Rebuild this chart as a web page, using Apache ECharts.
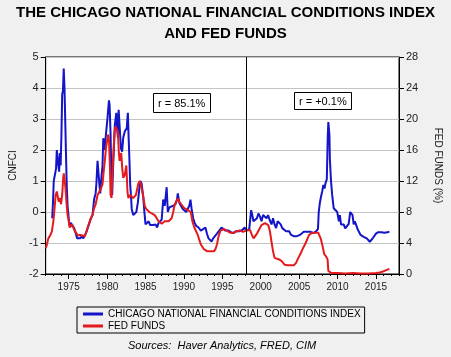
<!DOCTYPE html>
<html><head><meta charset="utf-8">
<script src="https://cdn.jsdelivr.net/npm/echarts@6/dist/echarts.min.js"></script>
<style>html,body{margin:0;padding:0;background:#f0f0f0}#c{width:451px;height:357px}</style>
</head><body><div id="c"></div>
<script>
const cnfciYears = [1972.85,1972.95,1973.05,1973.2,1973.35,1973.45,1973.55,1973.65,1973.75,1973.85,1973.95,1974.05,1974.15,1974.25,1974.35,1974.45,1974.55,1974.65,1974.75,1974.85,
1975.0,1975.1,1975.25,1975.4,1975.55,1975.75,1975.9,1976.1,1976.3,1976.5,1976.7,1976.9,1977.1,1977.3,1977.5,1977.7,1977.9,1978.1,1978.3,1978.5,
1978.6,1978.75,1978.85,1979.0,1979.1,1979.25,1979.4,1979.5,1979.65,1979.8,1980.0,1980.24,1980.32,1980.45,1980.55,1980.66,1980.75,1980.87,1981.0,1981.2,
1981.3,1981.4,1981.5,1981.62,1981.8,1981.95,1982.1,1982.3,1982.55,1982.7,1982.8,1982.9,1983.0,1983.1,1983.2,1983.4,1983.8,1984.0,1984.2,1984.35,
1984.5,1984.7,1984.85,1985.0,1985.2,1985.4,1985.6,1985.8,1986.0,1986.3,1986.5,1986.7,1986.9,1987.1,1987.3,1987.5,1987.75,1987.9,1988.1,1988.3,
1988.6,1988.9,1989.1,1989.2,1989.4,1989.6,1989.85,1990.0,1990.3,1990.5,1990.7,1990.85,1991.0,1991.2,1991.4,1991.6,1991.9,1992.2,1992.5,1992.8,
1993.0,1993.2,1993.4,1993.6,1993.8,1994.0,1994.3,1994.6,1994.9,1995.1,1995.4,1995.8,1996.1,1996.4,1996.8,1997.2,1997.6,1997.9,1998.1,1998.35,
1998.5,1998.75,1998.9,1999.05,1999.3,1999.5,1999.7,1999.9,2000.1,2000.3,2000.55,2000.75,2000.95,2001.15,2001.4,2001.6,2001.8,2002.0,2002.2,2002.4,
2002.6,2002.8,2003.05,2003.3,2003.5,2003.7,2003.95,2004.3,2004.7,2005.1,2005.6,2006.0,2006.5,2006.9,2007.2,2007.45,2007.55,2007.7,2007.85,2008.0,
2008.15,2008.3,2008.45,2008.6,2008.72,2008.8,2008.86,2008.94,2009.0,2009.15,2009.3,2009.5,2009.75,2009.96,2010.17,2010.3,2010.45,2010.6,2010.8,2011.0,
2011.2,2011.45,2011.65,2011.8,2011.95,2012.1,2012.25,2012.4,2012.6,2012.8,2013.0,2013.2,2013.4,2013.6,2013.8,2014.0,2014.2,2014.4,2014.6,2014.8,
2015.0,2015.15,2015.3,2015.5,2015.7,2015.9,2016.1,2016.3,2016.5,2016.75];
const cnfciValues = [-0.2,0.3,1.0,0.95,1.4,2.0,1.95,1.5,1.3,1.9,1.5,2.5,3.8,3.9,4.63,4.0,2.9,1.8,0.8,0.2,
-0.2,-0.45,-0.35,-0.3,-0.45,-0.55,-0.6,-0.85,-0.8,-0.85,-0.78,-0.85,-0.8,-0.65,-0.5,-0.35,-0.2,-0.1,0.4,0.6,
0.9,1.65,1.7,0.87,0.6,1.1,1.5,2.38,2.0,1.95,2.9,3.6,3.45,2.5,1.2,0.55,1.3,2.0,2.8,3.2,
2.7,2.4,3.3,2.8,2.05,1.95,2.4,2.6,2.7,3.2,2.4,1.7,0.9,0.55,0.1,-0.1,0.0,0.3,0.76,1.0,
0.9,0.5,0.0,-0.4,-0.45,-0.3,-0.42,-0.4,-0.42,-0.4,-0.5,-0.35,-0.3,-0.25,0.4,0.2,0.8,0.0,0.15,0.1,
0.2,0.25,0.4,0.6,0.3,0.2,0.1,0.05,0.0,0.05,0.2,0.4,0.1,-0.2,-0.35,-0.45,-0.5,-0.6,-0.55,-0.5,
-0.7,-0.85,-0.8,-0.95,-0.85,-0.8,-0.7,-0.6,-0.5,-0.55,-0.6,-0.6,-0.65,-0.68,-0.62,-0.62,-0.58,-0.5,-0.6,-0.6,
-0.55,0.06,-0.1,-0.3,-0.3,-0.2,-0.05,-0.15,-0.3,-0.1,-0.05,-0.2,-0.1,-0.25,-0.4,-0.2,-0.4,-0.52,-0.3,-0.35,
-0.4,-0.52,-0.58,-0.62,-0.68,-0.62,-0.74,-0.78,-0.78,-0.74,-0.64,-0.64,-0.64,-0.68,-0.62,-0.55,0.0,0.3,0.5,0.66,
0.87,0.76,0.95,1.05,2.4,2.9,2.85,2.5,1.7,1.0,0.55,0.12,0.12,0.0,-0.3,-0.1,-0.4,-0.45,-0.4,-0.53,
-0.53,-0.38,0.0,0.06,-0.1,-0.4,-0.3,-0.4,-0.55,-0.6,-0.74,-0.68,-0.8,-0.8,-0.85,-0.9,-0.96,-0.94,-0.84,-0.8,
-0.7,-0.75,-0.65,-0.7,-0.65,-0.62,-0.67,-0.62,-0.65,-0.64];

const fedYears = [1972.0,1972.15,1972.35,1972.6,1972.8,1973.0,1973.15,1973.3,1973.45,1973.56,1973.7,1973.86,1974.0,1974.15,1974.28,1974.36,1974.48,1974.58,1974.7,1974.83,
1975.0,1975.13,1975.25,1975.42,1975.6,1975.76,1975.97,1976.2,1976.5,1976.8,1977.1,1977.46,1977.67,1977.88,1978.1,1978.3,1978.5,1978.76,1979.2,1979.4,
1979.55,1979.7,1979.85,1980.0,1980.15,1980.25,1980.36,1980.45,1980.58,1980.7,1980.87,1980.97,1981.08,1981.2,1981.4,1981.52,1981.63,1981.72,1981.84,1981.97,
1982.1,1982.3,1982.5,1982.65,1982.77,1983.0,1983.4,1983.75,1984.04,1984.25,1984.47,1984.7,1984.9,1985.08,1985.3,1985.5,1985.85,1986.2,1986.7,1987.1,
1987.5,1988.0,1988.4,1988.6,1988.8,1989.2,1989.4,1989.6,1990.0,1990.4,1990.9,1991.1,1991.35,1991.8,1992.2,1992.6,1993.05,1993.5,1993.9,1994.1,
1994.3,1994.5,1994.75,1995.2,1995.6,1996.0,1996.5,1996.9,1997.3,1997.7,1998.1,1998.6,1998.85,1999.07,1999.3,1999.5,1999.75,2000.1,2000.55,2000.76,
2000.98,2001.2,2001.4,2001.6,2001.8,2002.0,2002.4,2002.7,2002.9,2003.1,2003.5,2003.9,2004.3,2004.6,2004.8,2005.0,2005.2,2005.4,2005.6,2005.85,
2006.1,2006.3,2006.5,2006.7,2007.2,2007.5,2007.6,2007.8,2008.05,2008.26,2008.5,2008.7,2008.8,2008.95,2009.2,2010.0,2011.0,2012.0,2013.0,2014.0,
2015.0,2015.5,2015.9,2016.1,2016.5,2016.75];
const fedValues = [3.32,3.76,4.6,5.0,5.48,6.8,8.4,10.2,10.64,10.4,9.32,9.8,9.0,10.2,12.36,13.0,12.0,11.04,9.32,7.8,
6.8,6.0,5.8,6.4,6.2,5.6,5.4,4.96,5.04,4.96,4.88,6.0,6.6,7.2,7.6,8.48,8.96,10.2,11.04,11.6,
13.2,14.6,16.24,17.2,18.0,17.2,14.0,10.2,9.8,13.2,16.6,18.4,19.0,19.2,18.4,15.8,14.6,15.2,15.6,13.6,
12.4,12.8,14.0,10.6,9.8,10.2,9.8,10.2,11.6,12.0,11.2,10.0,8.8,8.4,8.2,8.0,7.8,7.6,6.8,6.48,
6.8,6.8,7.2,8.0,8.96,9.76,9.32,9.12,8.52,8.32,8.0,6.8,6.0,5.04,3.8,3.2,2.92,2.92,2.92,3.2,
3.8,4.8,5.6,5.8,5.6,5.32,5.32,5.52,5.6,5.44,5.6,5.68,5.04,4.6,4.8,5.2,5.68,6.32,6.56,6.56,
6.32,5.48,4.16,2.92,2.08,1.88,1.88,1.68,1.44,1.2,1.12,1.12,1.12,1.44,1.88,2.28,2.68,3.12,3.52,4.0,
4.6,5.04,5.24,5.32,5.32,5.32,5.04,4.6,3.6,2.56,2.28,1.88,0.4,0.16,0.12,0.12,0.08,0.12,0.08,0.08,
0.12,0.2,0.32,0.4,0.56,0.64];

const xMajorTicks = [1975,1980,1985,1990,1995,2000,2005,2010,2015];
const xMinorTicks = [];
for (let y = 1972; y <= 2018; y++) xMinorTicks.push(y);
const gridLevels = [-1, 0, 1, 2, 3, 4];
const xMin = 1972, xMax = 2018, yMin = -2, yMax = 5;
const splitYear = 1998.1;

const cnfciData = cnfciYears.map((y, i) => [y, cnfciValues[i]]);
const fedData = fedYears.map((y, i) => [y, fedValues[i]]);

const FONT = '"Liberation Sans", Arial, sans-serif';
const chart = echarts.init(document.getElementById('c'), null, {renderer: 'canvas'});
chart.setOption({
  backgroundColor: '#f0f0f0',
  animation: false,
  title: [
    {text: 'THE CHICAGO NATIONAL FINANCIAL CONDITIONS INDEX\nAND FED FUNDS', left: 'center', top: 2,
     textStyle: {fontFamily: FONT, fontSize: 15, fontWeight: 'bold', color: '#000', lineHeight: 21, align: 'center'}, padding: 0},
    {text: 'r = 85.1%', left: 153, top: 93, padding: [5, 5, 4, 5], borderColor: '#000', borderWidth: 1, backgroundColor: '#fff', z: 10,
     textStyle: {fontFamily: FONT, fontSize: 11, fontWeight: 'normal', color: '#000'}},
    {text: 'r = +0.1%', left: 294, top: 92, padding: [4, 5, 3, 5], borderColor: '#000', borderWidth: 1, backgroundColor: '#fff', z: 10,
     textStyle: {fontFamily: FONT, fontSize: 11, fontWeight: 'normal', color: '#000'}},
    {text: 'Sources:  Haver Analytics, FRED, CIM', left: 128, top: 340, padding: 0,
     textStyle: {fontFamily: FONT, fontSize: 11, fontWeight: 'normal', fontStyle: 'italic', color: '#000'}}
  ],
  legend: {
    orient: 'vertical', left: 77, top: 307, itemGap: 2, itemWidth: 20, itemHeight: 3, icon: 'rect',
    borderColor: '#000', borderWidth: 1, borderRadius: 0, padding: [2, 4, 2, 6],
    textStyle: {fontFamily: FONT, fontSize: 10, color: '#000'},
    data: ['CHICAGO NATIONAL FINANCIAL CONDITIONS INDEX', 'FED FUNDS']
  },
  grid: {left: 41, right: 46, top: 57, bottom: 83, show: true, backgroundColor: 'transparent', borderColor: '#000', borderWidth: 1},
  xAxis: [
    {type: 'value', min: xMin, max: xMax, position: 'bottom',
     axisLine: {show: true, onZero: false, lineStyle: {color: '#000'}},
     axisTick: {show: true, length: 5, customValues: xMajorTicks, lineStyle: {color: '#000'}},
     axisLabel: {customValues: xMajorTicks, fontFamily: FONT, fontSize: 10, color: '#222', margin: 8, formatter: v => String(v)},
     splitLine: {show: false}},
    {type: 'value', min: xMin, max: xMax, position: 'bottom',
     axisLine: {show: false, onZero: false}, axisLabel: {show: false}, splitLine: {show: false},
     axisTick: {show: true, length: 2, customValues: xMinorTicks, lineStyle: {color: '#000'}}}
  ],
  yAxis: [
    {type: 'value', min: yMin, max: yMax, interval: 1, position: 'left',
     name: 'CNFCI', nameLocation: 'middle', nameRotate: 90, nameGap: 22,
     nameTextStyle: {fontFamily: FONT, fontSize: 10, color: '#222'},
     axisLine: {show: true, lineStyle: {color: '#000'}},
     axisTick: {show: true, length: 5, lineStyle: {color: '#000'}},
     axisLabel: {fontFamily: FONT, fontSize: 11, color: '#222', margin: 7},
     splitLine: {show: true, lineStyle: {color: '#c4c4c4', width: 1, type: 'solid'}}},
    {type: 'value', min: 0, max: 28, interval: 4, position: 'right',
     name: 'FED FUNDS (%)', nameLocation: 'middle', nameRotate: -90, nameGap: 34,
     nameTextStyle: {fontFamily: FONT, fontSize: 10, color: '#222'},
     axisLine: {show: true, lineStyle: {color: '#000'}},
     axisTick: {show: true, length: 5, lineStyle: {color: '#000'}},
     axisLabel: {fontFamily: FONT, fontSize: 11, color: '#222', margin: 7},
     splitLine: {show: false}}
  ],
  series: [
    {name: 'CHICAGO NATIONAL FINANCIAL CONDITIONS INDEX', type: 'line', xAxisIndex: 0, yAxisIndex: 0,
     data: cnfciData, showSymbol: false, symbol: 'none', color: '#1414c8',
     lineStyle: {color: '#1414c8', width: 2}, z: 3},
    {name: 'FED FUNDS', type: 'line', xAxisIndex: 0, yAxisIndex: 1,
     data: fedData, showSymbol: false, symbol: 'none', color: '#e41a1c',
     lineStyle: {color: '#e41a1c', width: 2}, z: 4,
     markLine: {silent: true, symbol: 'none', label: {show: false}, animation: false,
       lineStyle: {color: '#000', width: 1, type: 'solid'}, data: [{xAxis: splitYear}]}}
  ]
});

// White plot background and horizontal gridlines, positioned through the chart's own scales
const finder = {xAxisIndex: 0, yAxisIndex: 0};
const tl = chart.convertToPixel(finder, [xMin, yMax]);
const br = chart.convertToPixel(finder, [xMax, yMin]);
const elements = [{
  type: 'rect', z: -1, silent: true,
  shape: {x: tl[0], y: tl[1], width: br[0] - tl[0], height: br[1] - tl[1]},
  style: {fill: '#ffffff'}
}];
gridLevels.forEach(v => {
  const p = chart.convertToPixel(finder, [xMin, v]);
  const yy = Math.round(p[1]) + 0.5;
  elements.push({type: 'line', z: 1, silent: true,
    shape: {x1: tl[0] + 1, y1: yy, x2: br[0] - 1, y2: yy},
    style: {stroke: '#c4c4c4', lineWidth: 1}});
});
chart.setOption({graphic: {elements: elements}});
</script></body></html>
